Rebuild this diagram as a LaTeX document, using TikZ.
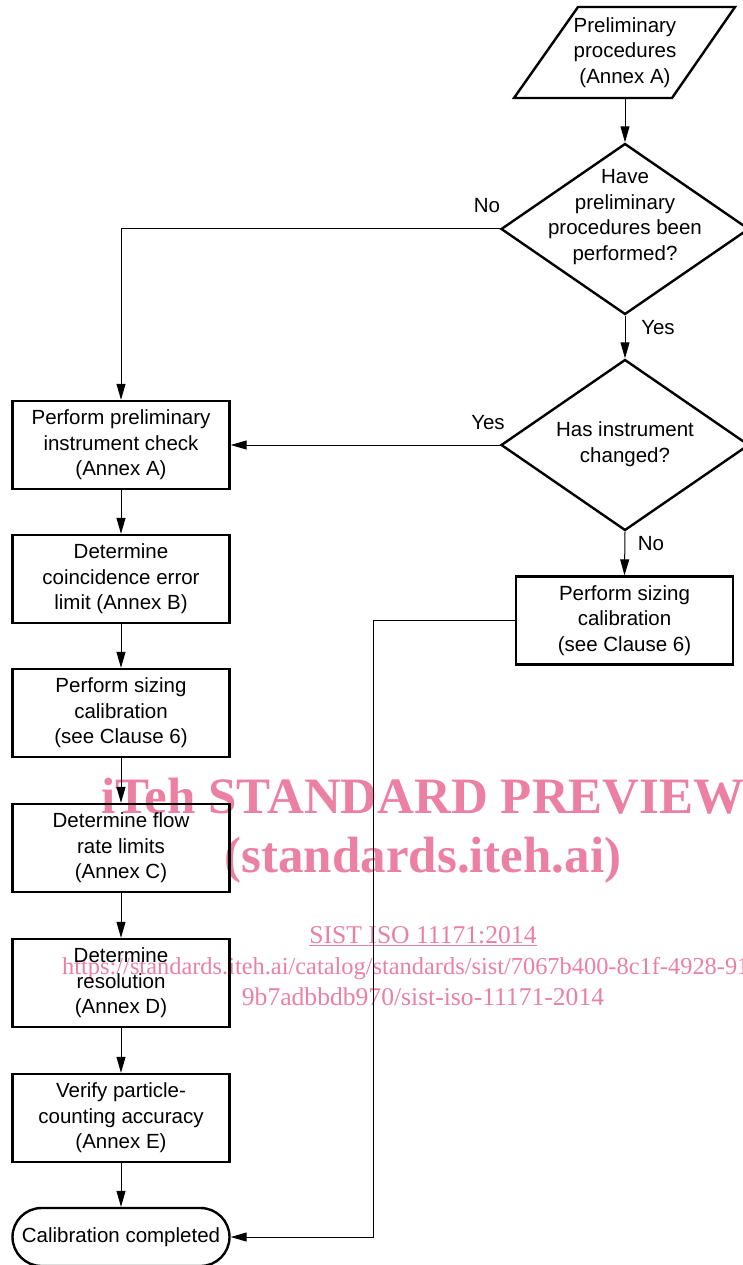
\documentclass[tikz,border=0pt]{standalone}
\usepackage{fontspec}
\setmainfont{Liberation Sans}
\newfontfamily\wmfont{Liberation Serif}
\usetikzlibrary{arrows.meta,shapes.geometric}
\definecolor{wmpink}{RGB}{236,128,163}
\begin{document}
\begin{tikzpicture}[x=1pt,y=-1pt,
  txt/.style={font=\fontsize{20.5}{25.5}\selectfont, align=center, inner sep=0},
  procbox/.style={txt, draw, line width=2.4pt, minimum width=217pt, minimum height=88pt},
  decision/.style={diamond, draw, line width=2.4pt, minimum width=248pt, minimum height=171pt, inner sep=0},
  conn/.style={line width=1pt, -{Triangle[length=16pt,width=9pt]}},
  lbl/.style={font=\fontsize{20.5}{25}\selectfont, inner sep=0},
  wmbig/.style={text=wmpink, font=\wmfont\bfseries\fontsize{51}{51}\selectfont, inner sep=0, anchor=base},
  wmsmall/.style={text=wmpink, font=\wmfont\fontsize{25.6}{25.6}\selectfont, inner sep=0, anchor=base}
]
\useasboundingbox (0,0) rectangle (743,1265);
\fill[white] (0,0) rectangle (743,1265);

% watermark
\node[wmbig] (wm1) at (423,813) {iTeh STANDARD PREVIEW};
\node[wmbig] (wm2) at (423,872) {(standards.iteh.ai)};
\node[wmsmall] (wm3) at (423,943) {\underline{SIST ISO 11171:2014}};
\node[wmsmall, anchor=base west, font=\wmfont\fontsize{24.4}{24.4}\selectfont] (wm4) at (62,974) {https://standards.iteh.ai/catalog/standards/sist/7067b400-8c1f-4928-91};
\node[wmsmall] (wm5) at (423,1005) {9b7adbbdb970/sist-iso-11171-2014};

% start parallelogram
\node[txt, minimum height=91pt, minimum width=160pt] (pre) at (625,52.5) {Preliminary\\procedures\\(Annex A)};
\draw[line width=2.4pt, line join=miter] (578,7) -- (735,7) -- (672,98) -- (514,98) -- cycle;

% decisions
\node[decision] (d1) at (625,229) {};
\node[txt, font=\fontsize{20.5}{25.7}\selectfont] (d1t) at (625,217) {Have\\preliminary\\procedures been\\performed?};
\node[decision] (d2) at (625,445) {};
\node[txt] (d2t) at (625,444) {Has instrument\\changed?};

% left column
\node[procbox] (b1) at (121,445) {Perform preliminary\\instrument check\\(Annex A)};
\node[procbox] (b2) at (121,579) {Determine\\coincidence error\\limit (Annex B)};
\node[procbox] (b3) at (121,713) {Perform sizing\\calibration\\(see Clause 6)};
\node[procbox] (b4) at (121,848) {Determine flow\\rate limits\\(Annex C)};
\node[procbox] (b5) at (121,983) {Determine\\resolution\\(Annex D)};
\node[procbox] (b6) at (121,1118) {Verify particle-\\counting accuracy\\(Annex E)};
\node[txt, draw, line width=2.4pt, minimum width=217pt, minimum height=58pt, rounded corners=29pt] (end) at (121,1237) {Calibration completed};

% right box
\node[procbox] (rb) at (624.5,620.5) {Perform sizing\\calibration\\(see Clause 6)};

% connectors
\draw[conn] (pre.south) -- (d1.north);
\draw[conn] (d1.west) -| (b1.north);
\node[lbl] (lno1) at (487,206) {No};
\draw[conn] (d1.south) -- (d2.north);
\node[lbl] (lyes1) at (658,328) {Yes};
\draw[conn] (d2.west) -- (b1.east);
\node[lbl] (lyes2) at (488,423) {Yes};
\draw[conn] (d2.south) -- (rb.north);
\node[lbl] (lno2) at (651,544) {No};
\draw[conn] (b1) -- (b2);
\draw[conn] (b2) -- (b3);
\draw[conn] (b3) -- (b4);
\draw[conn] (b4) -- (b5);
\draw[conn] (b5) -- (b6);
\draw[conn] (b6) -- (end);
\coordinate (turn) at (373,620.5);
\draw[conn] (rb.west) -- (turn) |- (end.east);
\end{tikzpicture}
\end{document}
